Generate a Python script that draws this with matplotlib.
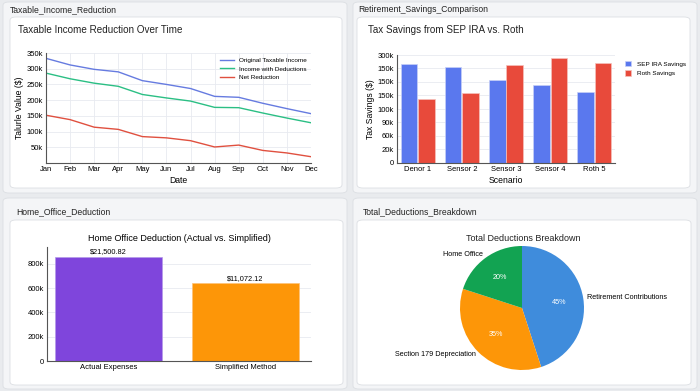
import numpy as np
import matplotlib.pyplot as plt
from matplotlib.patches import FancyBboxPatch

plt.rcParams['font.family'] = ['Liberation Sans', 'DejaVu Sans']

# ---- data ----
months = ['Jan', 'Feb', 'Mar', 'Apr', 'May', 'Jun', 'Jul', 'Aug', 'Sep', 'Oct', 'Nov', 'Dec']
original_income = [333, 312, 298, 290, 262, 250, 237, 212, 209, 190, 173, 157]
with_deductions = [286, 268, 254, 244, 218, 207, 197, 177, 176, 159, 143, 128]
net_reduction = [152, 138, 114, 107, 84, 80, 71, 51, 57, 40, 32, 20]

scenarios = ['Denor 1', 'Sensor 2', 'Sensor 3', 'Sensor 4', 'Roth 5']
sep_savings = [183, 178, 154, 144, 131]
roth_savings = [118, 130, 181, 194, 185]
savings_ticks = [0, 25, 50, 75, 100, 125, 150, 175, 200]
savings_tick_labels = ['0', '20k', '60k', '90k', '100k', '150k', '150k', '150k', '300k']

methods = ['Actual Expenses', 'Simplified Method']
method_values = [855, 641]
method_labels = ['$21,500.82', '$11,072.12']

pie_labels = ['Retirement Contributions', 'Section 179 Depreciation', 'Home Office']
pie_shares = [45, 35, 20]

W, H = 700, 391
fig = plt.figure(figsize=(7, 3.91), dpi=100)
fig.patch.set_facecolor('#e9ebee')


def box(x0, y0, x1, y1, fc, ec, r=6):
    p = FancyBboxPatch((x0 / W, 1 - y1 / H), (x1 - x0) / W, (y1 - y0) / H,
                       boxstyle='round,pad=0,rounding_size=%f' % (r / W),
                       transform=fig.transFigure, facecolor=fc, edgecolor=ec,
                       linewidth=0.6, zorder=-5)
    fig.patches.append(p)


def axes_px(x0, y0, x1, y1):
    return fig.add_axes([x0 / W, 1 - y1 / H, (x1 - x0) / W, (y1 - y0) / H])


# cards
for (x0, y0, x1, y1), (ix0, iy0, ix1, iy1), title, (tx, ty) in [
        ((3, 2, 347, 193), (10, 17, 342, 188), 'Taxable_Income_Reduction', (10, 10)),
        ((353, 2, 697, 193), (357, 17, 690, 188), 'Retirement_Savings_Comparison', (358, 10)),
        ((3, 198, 347, 389), (10, 220, 343, 385), 'Home_Office_Deduction', (16, 212)),
        ((353, 198, 697, 389), (357, 220, 691, 385), 'Total_Deductions_Breakdown', (363, 212))]:
    box(x0, y0, x1, y1, '#f4f5f7', '#dcdfe3')
    box(ix0, iy0, ix1, iy1, 'white', '#dcdfe3')
    fig.text(tx / W, 1 - ty / H, title, fontsize=6.2, va='center', ha='left', color='#222222')

tick_fs = 5.5
grid_c = '#e8eaf0'

# ---- line chart ----
ax1 = axes_px(46, 53, 311, 163)
x = np.arange(len(months))
ax1.plot(x, original_income, color='#667be0', lw=1, label='Original Taxable Income')
ax1.plot(x, with_deductions, color='#2bbf84', lw=1, label='Income with Deductions')
ax1.plot(x, net_reduction, color='#e0503f', lw=1, label='Net Reduction')
ax1.set_xlim(0, 11)
ax1.set_ylim(0, 350)
ax1.set_xticks(x)
ax1.set_xticklabels(months)
ax1.set_yticks([50, 100, 150, 200, 250, 300, 350])
ax1.set_yticklabels(['50k', '100k', '150k', '200k', '250k', '300k', '350k'])
ax1.grid(True, color=grid_c, lw=0.6)
ax1.set_xlabel('Date', fontsize=6.2, labelpad=2)
ax1.set_ylabel('Talurle Value ($)', fontsize=6.2, labelpad=2)
ax1.legend(loc='upper right', fontsize=4.6, frameon=False, handlelength=2.2,
           borderaxespad=0.3, labelspacing=0.5)
fig.text(18 / W, 1 - 30 / H, 'Taxable Income Reduction Over Time', fontsize=7.1,
         va='center', color='#222222')

# ---- grouped bar chart ----
ax2 = axes_px(397, 55, 615, 163)
xs = np.arange(len(scenarios))
ax2.bar(xs - 0.2, sep_savings, 0.38, color='#5a78ee', edgecolor='#c7d0f7', lw=0.5,
        label='SEP IRA Savings', zorder=2)
ax2.bar(xs + 0.2, roth_savings, 0.38, color='#e84a3b', edgecolor='#f5c2bc', lw=0.5,
        label='Roth Savings', zorder=2)
ax2.set_xlim(-0.47, 4.47)
ax2.set_ylim(0, 200)
ax2.set_xticks(xs)
ax2.set_xticklabels(scenarios)
ax2.set_yticks(savings_ticks)
ax2.set_yticklabels(savings_tick_labels)
ax2.grid(True, axis='y', color=grid_c, lw=0.6, zorder=0)
ax2.set_xlabel('Scenario', fontsize=6.2, labelpad=2)
ax2.set_ylabel('Tax Savings ($)', fontsize=6.2, labelpad=2)
ax2.legend(loc='upper left', bbox_to_anchor=(1.02, 1.0), fontsize=4.6, frameon=False,
           handlelength=1, handleheight=1, labelspacing=0.5)
fig.text(368 / W, 1 - 30 / H, 'Tax Savings from SEP IRA vs. Roth', fontsize=7.1,
         va='center', color='#222222')

# ---- home office bars ----
ax3 = axes_px(47, 247, 311, 361)
xm = np.arange(len(methods))
bars = ax3.bar(xm, method_values, 0.78, color=['#7f45dc', '#fd9608'],
               edgecolor=['#b49ae8', '#fdc27a'], lw=0.5, zorder=2)
for b, lab in zip(bars, method_labels):
    ax3.text(b.get_x() + b.get_width() / 2, b.get_height() + 12, lab,
             ha='center', va='bottom', fontsize=5.3)
ax3.set_xlim(-0.45, 1.48)
ax3.set_ylim(0, 937)
ax3.set_xticks(xm)
ax3.set_xticklabels(methods)
ax3.set_yticks([0, 200, 400, 600, 800])
ax3.set_yticklabels(['0', '200k', '400k', '600k', '800k'])
ax3.grid(True, axis='y', color=grid_c, lw=0.6, zorder=0)
ax3.set_title('Home Office Deduction (Actual vs. Simplified)', fontsize=6.5, pad=4)

# ---- pie ----
ax4 = axes_px(522 - 62, 308 - 62, 522 + 62, 308 + 62)
wedges, texts, autotexts = ax4.pie(
    pie_shares, labels=pie_labels, colors=['#3f8cdc', '#fd9608', '#12a352'],
    startangle=90, counterclock=False, autopct='%d%%', pctdistance=0.6,
    labeldistance=1.06, textprops={'fontsize': 5.2})
for t in autotexts:
    t.set_color('white')
ax4.set_aspect('equal')
ax4.set_xlim(-1, 1)
ax4.set_ylim(-1, 1)
fig.text(523 / W, 1 - 238 / H, 'Total Deductions Breakdown', fontsize=6.5,
         ha='center', va='center', color='#222222')

for ax in (ax1, ax2, ax3):
    ax.set_facecolor('white')
    for s in ('top', 'right'):
        ax.spines[s].set_visible(False)
    for s in ('left', 'bottom'):
        ax.spines[s].set_color('#555555')
        ax.spines[s].set_linewidth(0.8)
    ax.tick_params(labelsize=tick_fs, length=0, pad=2)

fig.savefig('out.png', dpi=100, facecolor=fig.get_facecolor())
